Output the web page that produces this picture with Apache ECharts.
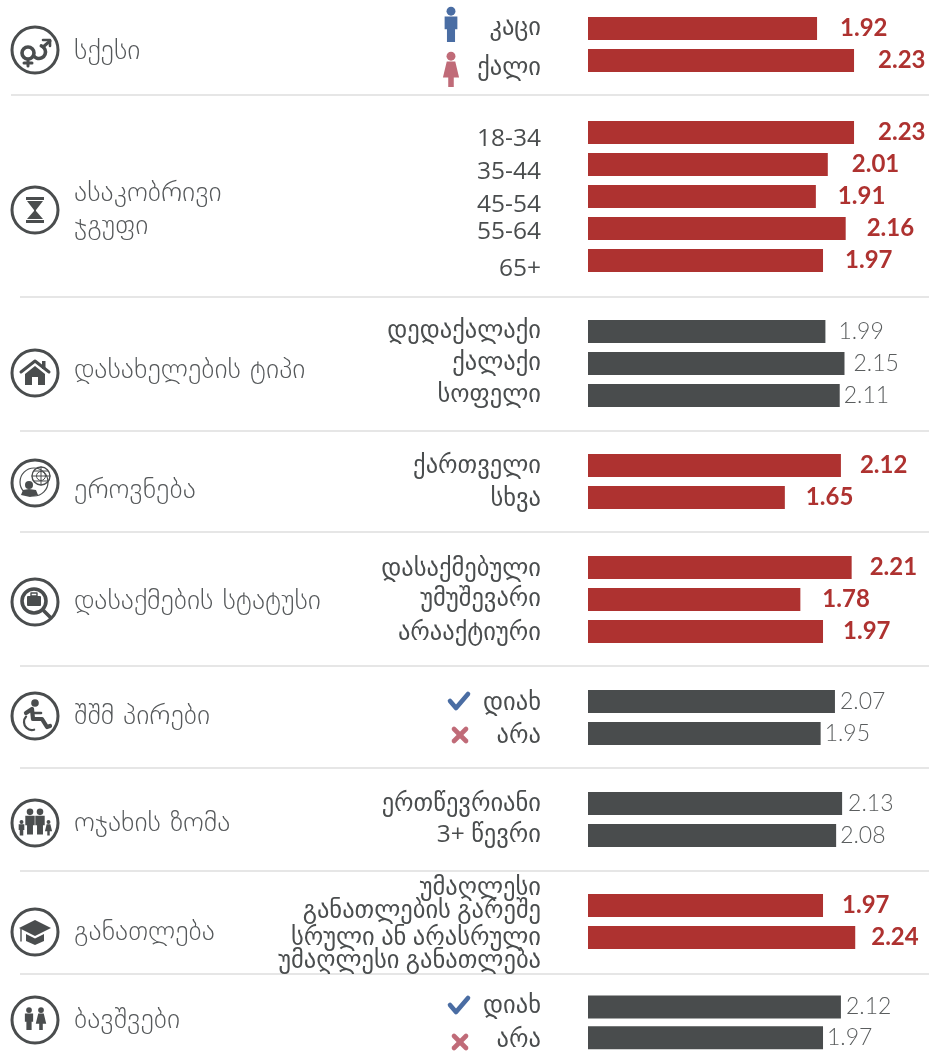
<!DOCTYPE html>
<html><head><meta charset="utf-8">
<style>html,body{margin:0;padding:0;background:#fff}#c{width:931px;height:1053px}</style>
<script src="https://cdn.jsdelivr.net/npm/echarts@6/dist/echarts.min.js"></script>
</head><body><div id="c"></div>
<script>
const sexCats=['კაცი','ქალი'], sexVals=[1.92,2.23];
const ageCats=['18-34','35-44','45-54','55-64','65+'], ageVals=[2.23,2.01,1.91,2.16,1.97];
const settleCats=['დედაქალაქი','ქალაქი','სოფელი'], settleVals=[1.99,2.15,2.11];
const ethnicCats=['ქართველი','სხვა'], ethnicVals=[2.12,1.65];
const jobCats=['დასაქმებული','უმუშევარი','არააქტიური'], jobVals=[2.21,1.78,1.97];
const pwdCats=['დიახ','არა'], pwdVals=[2.07,1.95];
const familyCats=['ერთწევრიანი','3+ წევრი'], familyVals=[2.13,2.08];
const eduCats=['უმაღლესი\nგანათლების გარეშე','სრული ან არასრული\nუმაღლესი განათლება'], eduVals=[1.97,2.24];
const kidsCats=['დიახ','არა'], kidsVals=[2.12,1.97];
const headings=['სქესი','ასაკობრივი\nჯგუფი','დასახელების ტიპი','ეროვნება','დასაქმების სტატუსი','შშმ პირები','ოჯახის ზომა','განათლება','ბავშვები'];

const RED='#ae3230',GRAY='#494c4d',ICON='#4a4d4e',BLUE='#4a6da3',ROSE='#c06b78';
const F='"Open Sans","DejaVu Sans"';
const LS=21.5; // label line height
// layout per section: top of first row, heading y, icon y, emphasis, value-label gaps, label nudges
const sections=[
 {c:sexCats,v:sexVals,top:12.5,head:52,icon:50,hot:true,gap:[23,24],nudge:[0,9]},
 {c:ageCats,v:ageVals,top:116.5,head:210,icon:210,hot:true,gap:[24,24,22,21,22],nudge:[8,9,10,5,10]},
 {c:settleCats,v:settleVals,top:315.5,head:371,icon:373,hot:false,gap:[13,9,4],nudge:[1,1,0]},
 {c:ethnicCats,v:ethnicVals,top:449.5,head:491,icon:483,hot:true,gap:[19,21],nudge:[2,3]},
 {c:jobCats,v:jobVals,top:551.5,head:602,icon:602,hot:true,gap:[18,22,20],nudge:[3,1,3]},
 {c:pwdCats,v:pwdVals,top:685.5,head:717,icon:716,hot:false,gap:[5,4],nudge:[3,4]},
 {c:familyCats,v:familyVals,top:787.5,head:824,icon:823,hot:false,gap:[6,4],nudge:[2,1]},
 {c:eduCats,v:eduVals,top:889.5,head:933,icon:932,hot:true,gap:[19,16],nudge:[-7,13]},
 {c:kidsCats,v:kidsVals,top:991.5,head:1021,icon:1020,hot:false,gap:[5,4],nudge:[1,4]}
];
const dividers=[[11,95],[20,297],[20,431],[20,532],[20,666],[20,768],[20,871],[20,974]];

const tok=(extra)=>Object.assign({color:'#4a4d4e',fontFamily:F,fontSize:24.5,lineHeight:LS},extra||{});
const richStyles={n:tok()};
for(let d=1;d<=14;d++){
 richStyles['dn'+d]=tok({lineHeight:LS+2*d,verticalAlign:'bottom'});
 richStyles['up'+d]=tok({lineHeight:LS+2*d,verticalAlign:'top'});
}
const fmt=(name,d)=>{
 const ls=name.split('\n');
 return ls.map((t,i)=>{
  let st='n';
  if(d>0&&i===0) st='dn'+d;
  if(d<0&&i===ls.length-1) st='up'+(-d);
  return '{'+st+'|'+t+'}';
 }).join('\n');
};

const grids=[],xAxes=[],yAxes=[],series=[];
sections.forEach((s,i)=>{
 grids.push({left:588,width:298.25,top:s.top,height:s.c.length*32});
 xAxes.push({type:'value',gridIndex:i,min:0,max:2.5,show:false});
 yAxes.push({type:'category',gridIndex:i,inverse:true,data:s.c,
  axisLine:{show:false},axisTick:{show:false},splitLine:{show:false},
  axisLabel:{interval:0,hideOverlap:false,margin:47,align:'right',rich:richStyles,
   formatter:(val,idx)=>fmt(val,s.nudge[idx])}});
 series.push({type:'bar',xAxisIndex:i,yAxisIndex:i,barWidth:23,silent:true,
  data:s.v.map((val,k)=>({value:val,label:{distance:s.gap[k]}})),
  itemStyle:{color:s.hot?RED:GRAY},
  label:{show:true,position:'right',formatter:p=>p.value.toFixed(2),
   fontFamily:s.hot?'Lato':'"Lato Light",Lato',fontWeight:s.hot?'bold':300,fontSize:s.hot?24:23,color:s.hot?RED:'#5a5d5e'}});
});

const g=[];
dividers.forEach(d=>g.push({type:'line',shape:{x1:d[0],y1:d[1],x2:929,y2:d[1]},style:{stroke:'#e6e6e6',lineWidth:2},silent:true}));
sections.forEach((s,i)=>{
 g.push({type:'text',x:74,y:s.head,style:{text:headings[i],font:'200 28px "DejaVu Sans ExtraLight","DejaVu Sans"',fill:'#55585a',verticalAlign:'middle',lineHeight:33},silent:true});
 g.push({type:'circle',shape:{cx:35,cy:s.icon,r:23},style:{fill:'none',stroke:ICON,lineWidth:3},silent:true});
});
const fill=(type,shape,color)=>({type,shape,style:{fill:color||ICON},silent:true});
const stroke=(type,shape,w,color)=>({type,shape,style:{fill:'none',stroke:color||ICON,lineWidth:w,lineCap:'round',lineJoin:'round'},silent:true});
const at=(x,y,children,scale)=>g.push({type:'group',x,y,scaleX:scale||1,scaleY:scale||1,children,silent:true});
const person=(x,y,h,color,skirt)=>{const u=h/16,parts=[fill('circle',{cx:x,cy:y-6.5*u,r:2.1*u},color)];
 parts.push(fill('polygon',{points:skirt?[[x-2*u,y-4*u],[x+2*u,y-4*u],[x+3.8*u,y+3.5*u],[x+1.3*u,y+3.5*u],[x+1.3*u,y+8*u],[x-1.3*u,y+8*u],[x-1.3*u,y+3.5*u],[x-3.8*u,y+3.5*u]]
   :[[x-3*u,y-4*u],[x+3*u,y-4*u],[x+3*u,y+2*u],[x+1.9*u,y+2*u],[x+1.9*u,y+8*u],[x-1.9*u,y+8*u],[x-1.9*u,y+2*u],[x-3*u,y+2*u]]},color));return parts;};
// sex
at(35,50,[stroke('circle',{cx:-7,cy:3,r:6},3.6),stroke('arc',{cx:4,cy:2,r:6.5,startAngle:-1.2,endAngle:2.4,clockwise:true},3.6),stroke('line',{x1:-7,y1:10,x2:-7,y2:16},3),stroke('line',{x1:-11,y1:13,x2:-3,y2:13},3),stroke('polyline',{points:[[8,-3],[15,-9]]},3),stroke('polyline',{points:[[8,-10],[15,-10],[15,-4]]},2.6)]);
// hourglass
at(35,210,[fill('rect',{x:-9,y:-13,width:18,height:3}),fill('rect',{x:-9,y:10,width:18,height:3}),fill('polygon',{points:[[-8,-9],[8,-9],[1,0],[1,1],[8,9],[-8,9],[-1,1],[-1,0]]})]);
// house
at(35,373,[stroke('polyline',{points:[[-14,-1],[0,-12],[14,-1]]},3),fill('rect',{x:7,y:-12,width:3.5,height:8}),fill('polygon',{points:[[-10,1],[0,-7],[10,1],[10,12],[3,12],[3,4],[-3,4],[-3,12],[-10,12]]})]);
// globe
at(35,483,[stroke('circle',{cx:-1,cy:-1,r:14},1.2),stroke('circle',{cx:6,cy:-7,r:9},1.4),stroke('line',{x1:-3,y1:-7,x2:15,y2:-7},1),stroke('line',{x1:6,y1:-16,x2:6,y2:2},1),stroke('line',{x1:-1,y1:-12,x2:13,y2:-12},1),stroke('line',{x1:-1,y1:-2,x2:13,y2:-2},1),stroke('circle',{cx:6,cy:-7,r:4.5},1),fill('circle',{cx:-6,cy:2,r:4}),fill('polygon',{points:[[-14,12],[-12,7],[-6,6],[1,7],[3,12],[-5,14]]})]);
// job
at(35,602,[stroke('circle',{cx:-1,cy:-1,r:12},3.6),stroke('line',{x1:9,y1:9,x2:15,y2:15},3.6),fill('rect',{x:-8,y:-6,width:14,height:10,r:1}),stroke('rect',{x:-4,y:-9,width:6,height:3},1.4)]);
// wheelchair
at(35,716,[fill('circle',{cx:0,cy:-13,r:3.8}),stroke('polyline',{points:[[-9,-3],[-3,-7],[-2,3],[7,3],[12,11],[15,10]]},4.2),stroke('line',{x1:-2,y1:-3,x2:6,y2:-3},2.6),stroke('arc',{cx:-3,cy:6,r:8,startAngle:-2.4,endAngle:1.3,clockwise:false},2.2)]);
// family
at(35,823,[...person(-13.5,5,15),...person(13.5,5,15,ICON,true),...person(-5,-1,25),...person(5,-1,25)]);
// grad cap
at(35,932,[fill('polygon',{points:[[-16,-4],[0,-12],[16,-4],[0,4]]}),fill('polygon',{points:[[-9,2],[0,6.5],[9,2],[9,9],[0,13],[-9,9]]}),stroke('line',{x1:-14,y1:-3,x2:-14,y2:9},1.4)]);
// children
at(35,1020,[...person(-6,-1,22),...person(6,-1,22,ICON,true)]);
// row markers
at(451,25,person(0,0,34,BLUE));
at(451,70,person(0,0,34,ROSE,true));
const check=(x,y)=>at(x,y,[stroke('polyline',{points:[[-9,0],[-3,7],[9,-7]]},4.6,BLUE)]);
const cross=(x,y)=>at(x,y,[stroke('line',{x1:-6,y1:-6,x2:6,y2:6},4.6,ROSE),stroke('line',{x1:-6,y1:6,x2:6,y2:-6},4.6,ROSE)]);
check(459,701);cross(460,735);check(459,1005);cross(460,1042);

const chart=echarts.init(document.getElementById('c'),null,{renderer:'canvas'});
chart.setOption({animation:false,backgroundColor:'#fff',grid:grids,xAxis:xAxes,yAxis:yAxes,series,graphic:g});
</script></body></html>
